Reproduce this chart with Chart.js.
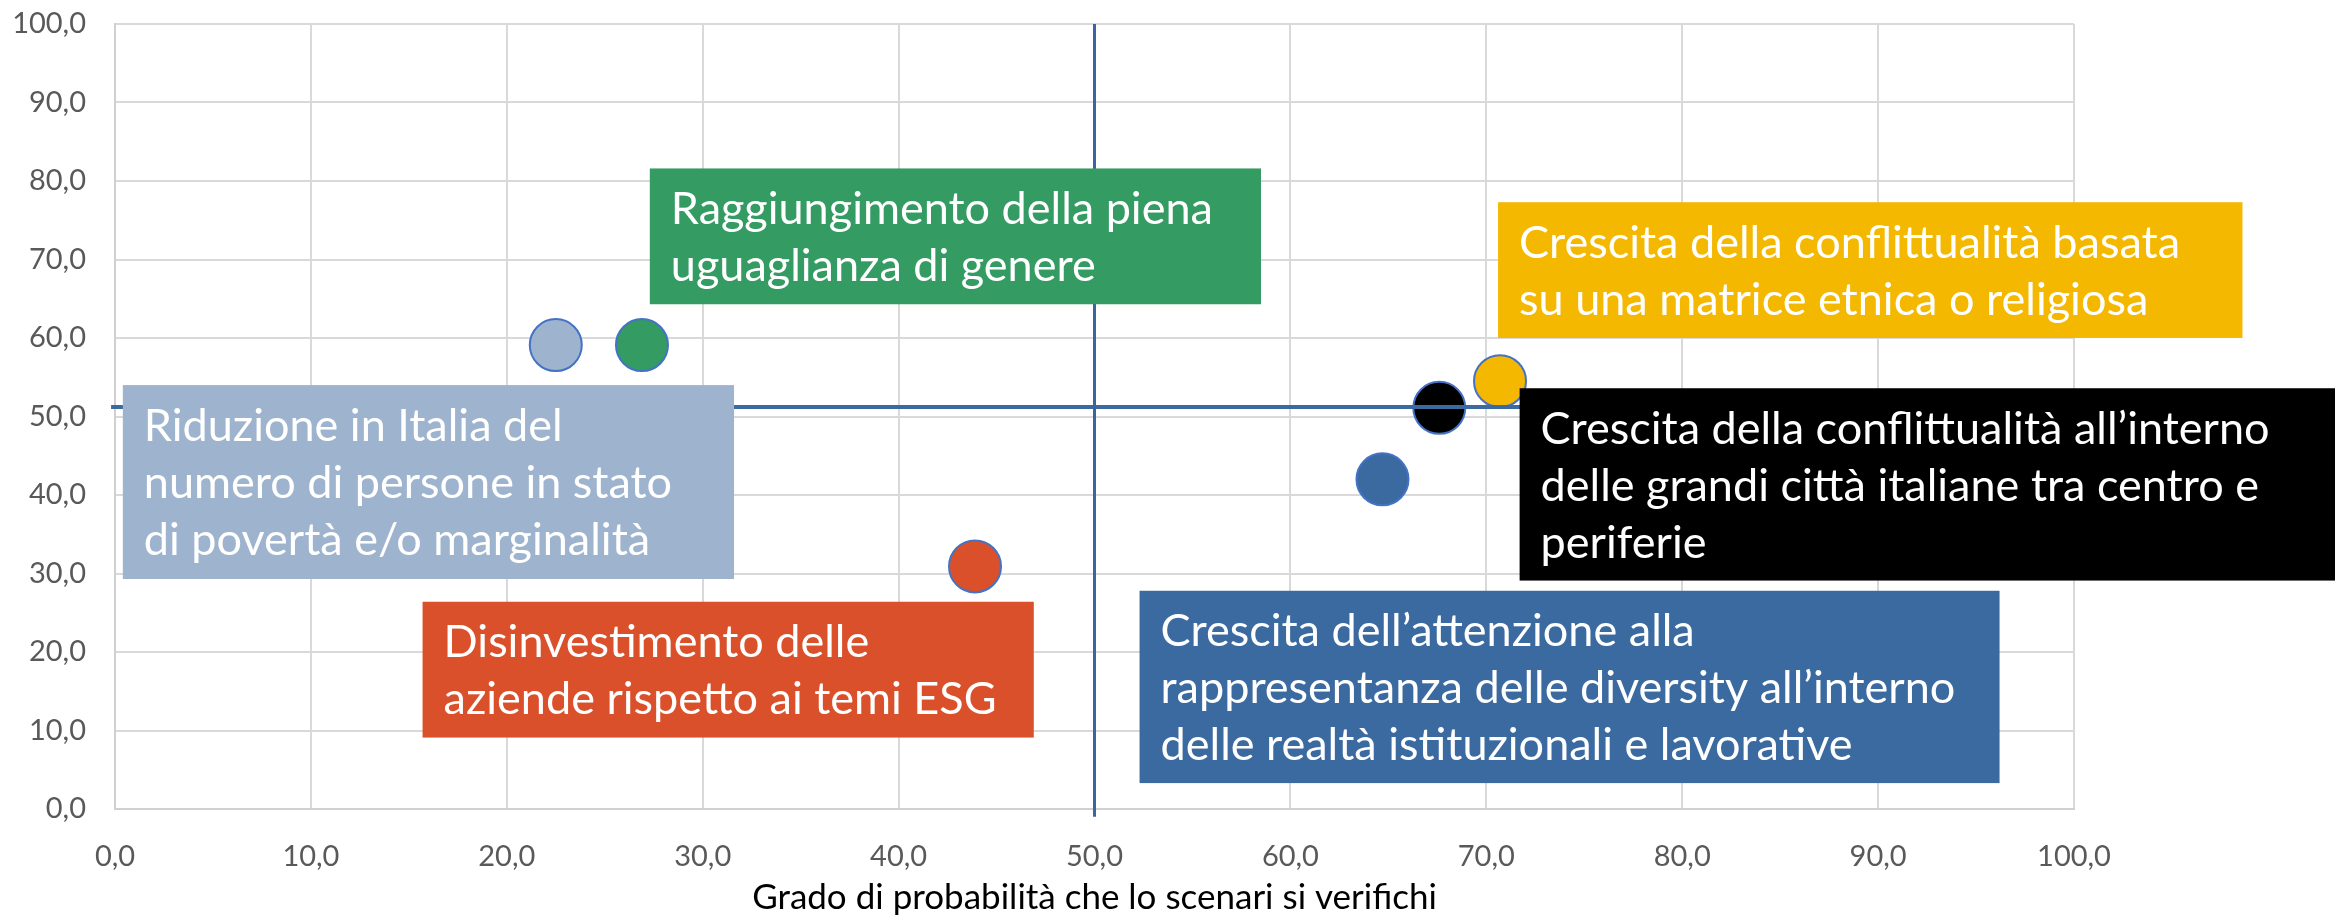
<!DOCTYPE html>
<html>
<head>
<meta charset="utf-8">
<script src="https://cdn.jsdelivr.net/npm/chart.js@4"></script>
<style>
  html, body { margin: 0; padding: 0; background: #fff; }
</style>
</head>
<body>
<canvas id="scenariChart" width="2335" height="919"></canvas>
<script>
// scenari e valori
const scenari = [
  'Riduzione in Italia del numero di persone in stato di povertà e/o marginalità',
  'Raggiungimento della piena uguaglianza di genere',
  'Disinvestimento delle aziende rispetto ai temi ESG',
  'Crescita dell’attenzione alla rappresentanza delle diversity',
  'Crescita della conflittualità nelle grandi città',
  'Crescita della conflittualità etnica o religiosa'
]
const probabilita = [22.5, 26.9, 43.9, 64.7, 67.6, 70.7]
const impatto = [59.1, 59.1, 30.9, 42.0, 51.1, 54.5]
const rifX = 50
const rifY = 51.2
const tickValori = [0, 10, 20, 30, 40, 50, 60, 70, 80, 90, 100]

// testo dei riquadri (una riga per elemento)
const etichette = [
  ['Riduzione in Italia del', 'numero di persone in stato', 'di povertà e/o marginalità'],
  ['Raggiungimento della piena', 'uguaglianza di genere'],
  ['Disinvestimento delle', 'aziende rispetto ai temi ESG'],
  ['Crescita dell’attenzione alla', 'rappresentanza delle diversity all’interno', 'delle realtà istituzionali e lavorative'],
  ['Crescita della conflittualità all’interno', 'delle grandi città italiane tra centro e', 'periferie'],
  ['Crescita della conflittualità basata', 'su una matrice etnica o religiosa']
]

const colori = ['#9DB3CE', '#349B63', '#D9502A', '#3B6AA0', '#000000', '#F5B800']

// posizione dei riquadri in unità degli assi
const riquadri = [
  { x0: 0.4, x1: 31.6, y0: 54.0, y1: 29.3 },
  { x0: 27.3, x1: 58.5, y0: 81.6, y1: 64.3 },
  { x0: 15.7, x1: 46.9, y0: 26.4, y1: 9.1 },
  { x0: 52.3, x1: 96.2, y0: 27.8, y1: 3.3 },
  { x0: 71.7, x1: 113.5, y0: 53.6, y1: 29.1 },
  { x0: 70.6, x1: 108.6, y0: 77.3, y1: 60.0 }
]

const formato = v => Number(v).toFixed(1).replace('.', ',')

const riquadriPlugin = {
  id: 'riquadri',
  afterDatasetsDraw(chart) {
    const { ctx, scales: { x, y } } = chart
    ctx.save()
    riquadri.forEach((b, i) => {
      const left = x.getPixelForValue(b.x0)
      const right = x.getPixelForValue(b.x1)
      const top = y.getPixelForValue(b.y0)
      const bottom = y.getPixelForValue(b.y1)
      ctx.fillStyle = colori[i]
      ctx.fillRect(left, top, right - left, bottom - top)
      ctx.fillStyle = '#ffffff'
      ctx.font = '45px Lato'
      ctx.textBaseline = 'middle'
      etichette[i].forEach((riga, k) => {
        ctx.fillText(riga, left + 21, top + 41 + k * 57)
      })
    })
    ctx.restore()
  }
}

const punti = probabilita.map((v, i) => ({ x: v, y: impatto[i] }))

new Chart(document.getElementById('scenariChart'), {
  type: 'scatter',
  data: {
    datasets: [
      {
        label: 'Scenari',
        data: punti,
        backgroundColor: colori,
        borderColor: '#4472C4',
        borderWidth: 2,
        pointRadius: 26,
        pointHoverRadius: 26,
        order: 2
      },
      {
        label: 'rifX',
        data: [{ x: rifX, y: -1 }, { x: rifX, y: 100 }],
        showLine: true,
        borderColor: '#3B64A0',
        borderWidth: 3,
        pointRadius: 0,
        clip: false,
        order: 1
      },
      {
        label: 'rifY',
        data: [{ x: -0.2, y: rifY }, { x: 100, y: rifY }],
        showLine: true,
        borderColor: '#3B6AA0',
        borderWidth: 4,
        pointRadius: 0,
        clip: false,
        order: 1
      }
    ]
  },
  options: {
    responsive: false,
    animation: false,
    devicePixelRatio: 1,
    layout: { autoPadding: false, padding: { top: 24, right: 261, bottom: 0, left: 0 } },
    plugins: {
      legend: { display: false },
      tooltip: { enabled: false }
    },
    scales: {
      x: {
        type: 'linear',
        min: 0,
        max: 100,
        afterBuildTicks: s => { s.ticks = tickValori.map(v => ({ value: v })) },
        afterFit: s => { s.height = 110 },
        grid: { color: '#D9D9D9', lineWidth: 2, drawTicks: false },
        border: { color: '#D0D0D0', width: 2 },
        ticks: {
          padding: 30,
          color: '#595959',
          font: { family: 'Lato', size: 29 },
          callback: formato,
          maxRotation: 0
        },
        title: {
          display: true,
          text: 'Grado di probabilità che lo scenari si verifichi',
          color: '#000000',
          font: { family: 'Lato', size: 35 },
          padding: { top: 0, bottom: 0 }
        }
      },
      y: {
        type: 'linear',
        min: 0,
        max: 100,
        afterBuildTicks: s => { s.ticks = tickValori.map(v => ({ value: v })) },
        afterFit: s => { s.width = 115 },
        grid: { color: '#D9D9D9', lineWidth: 2, drawTicks: true, tickLength: 29, tickColor: 'rgba(0,0,0,0)' },
        border: { color: '#D0D0D0', width: 2 },
        ticks: {
          padding: 0,
          color: '#595959',
          font: { family: 'Lato', size: 29 },
          callback: formato
        }
      }
    }
  },
  plugins: [riquadriPlugin]
})
</script>
</body>
</html>
